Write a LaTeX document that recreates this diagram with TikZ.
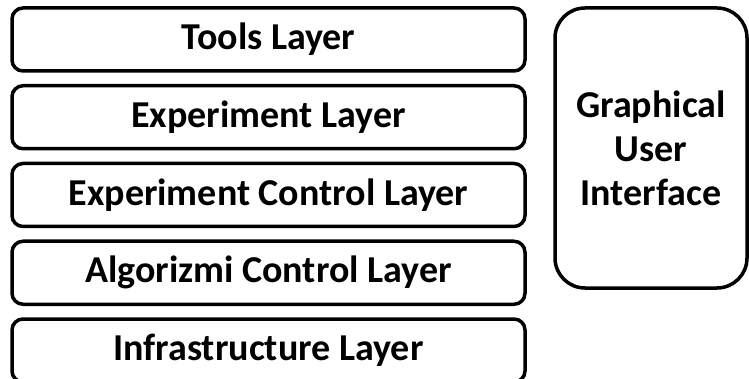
\documentclass[tikz,border=0pt]{standalone}
\usepackage{fontspec}
\setmainfont{Carlito}

\begin{document}
\begin{tikzpicture}[x=1pt,y=1pt,yscale=-1,xscale=1,
  layer/.style={draw, line width=3.5pt, rounded corners=11pt, minimum width=513pt, minimum height=63pt, inner sep=0pt, font=\fontsize{38}{44}\selectfont\bfseries},
  guibox/.style={draw, line width=3.5pt, rounded corners=30pt, minimum width=192pt, minimum height=280pt, inner sep=0pt, align=center, font=\fontsize{38}{44}\selectfont\bfseries}]

\useasboundingbox (0,0) rectangle (749,379);

\node [layer] (tools) at (268.5,39.5) {Tools Layer};
\node [layer] (experiment) at (268.5,117.25) {Experiment Layer};
\node [layer] (expcontrol) at (268.5,195) {Experiment Control Layer};
\node [layer] (algcontrol) at (268.5,272.75) {Algorizmi Control Layer};
\node [layer] (infra) at (268.5,350.5) {Infrastructure Layer};

\node [guibox] (gui) at (651,148) {Graphical\\User\\Interface};

\end{tikzpicture}
\end{document}
